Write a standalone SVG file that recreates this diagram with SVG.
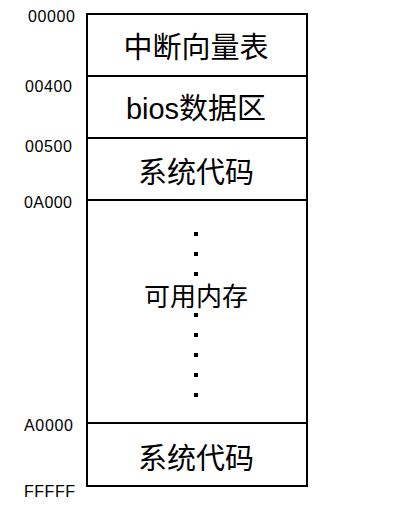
<svg xmlns="http://www.w3.org/2000/svg" width="404" height="522" viewBox="0 0 404 522">
<style>
.box{fill:#fff;stroke:#000;stroke-width:2}
.div{stroke:#000;stroke-width:2}
.addr{font-family:"Liberation Sans","Noto Sans CJK SC",sans-serif;font-size:16px;fill:#000;text-anchor:end}
.cell{font-family:"Liberation Sans","Noto Sans CJK SC",sans-serif;font-size:29px;fill:#000;text-anchor:middle}
.dots{stroke:#000;stroke-width:4;stroke-dasharray:4 16}
</style>
<rect width="404" height="522" fill="#fff"/>
<g id="memory">
<rect class="box" x="87" y="14" width="220" height="472"/>
</g>
<g id="dividers">
<line class="div" x1="87" y1="76" x2="307" y2="76"/>
<line class="div" x1="87" y1="138" x2="307" y2="138"/>
<line class="div" x1="87" y1="200" x2="307" y2="200"/>
<line class="div" x1="87" y1="423" x2="307" y2="423"/>
</g>
<g id="ivt"><text class="cell" x="196" y="58">中断向量表</text></g>
<g id="bios"><text class="cell" x="196" y="119">bios数据区</text></g>
<g id="sys1"><text class="cell" x="196" y="183">系统代码</text></g>
<g id="free">
<line class="dots" x1="196" y1="232" x2="196" y2="277"/>
<line class="dots" x1="196" y1="313" x2="196" y2="398"/>
<text class="cell" x="196" y="306" style="font-size:26px">可用内存</text>
</g>
<g id="sys2"><text class="cell" x="196" y="469">系统代码</text></g>
<g id="addresses">
<text class="addr" x="75" y="22" textLength="47">00000</text>
<text class="addr" x="72" y="92" textLength="47">00400</text>
<text class="addr" x="72" y="152" textLength="47">00500</text>
<text class="addr" x="72" y="208" textLength="48">0A000</text>
<text class="addr" x="73" y="431" textLength="49">A0000</text>
<text class="addr" x="75" y="497" textLength="51">FFFFF</text>
</g>
</svg>
